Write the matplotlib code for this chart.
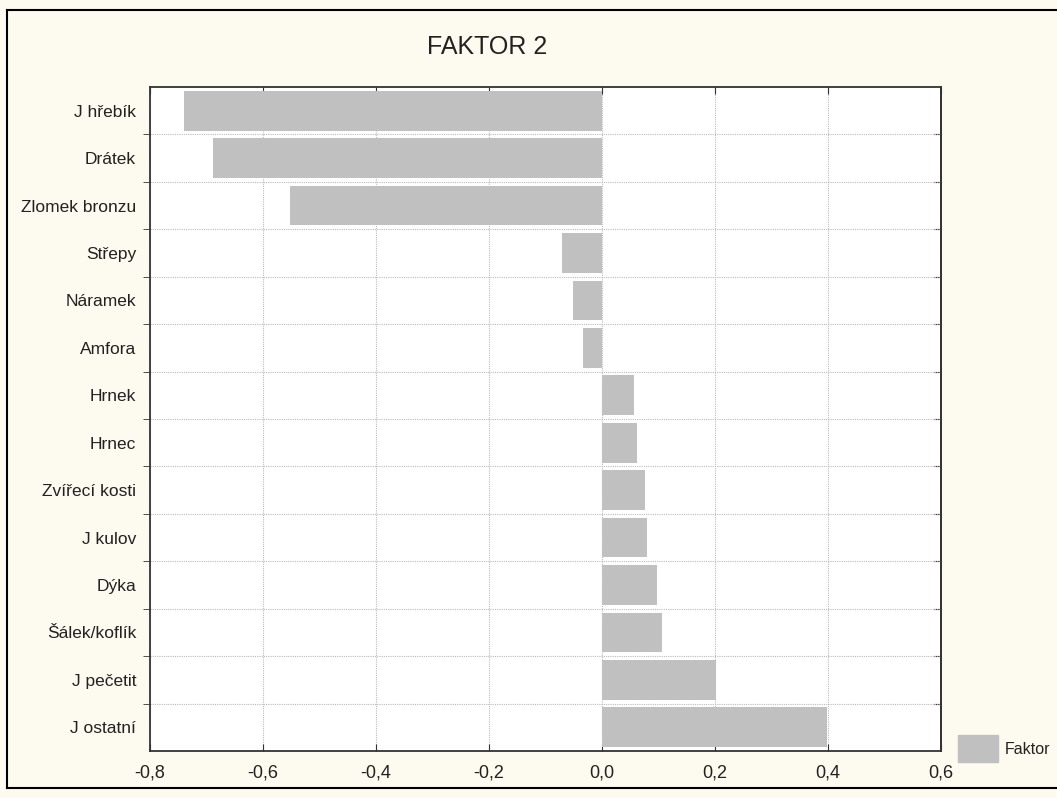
import matplotlib.pyplot as plt
from matplotlib.patches import Rectangle

# data (top to bottom as in the chart)
categories = ["J hřebík", "Drátek", "Zlomek bronzu", "Střepy", "Náramek", "Amfora",
              "Hrnek", "Hrnec", "Zvířecí kosti", "J kulov", "Dýka", "Šálek/koflík",
              "J pečetit", "J ostatní"]
values = [-0.740, -0.688, -0.552, -0.071, -0.051, -0.034,
          0.057, 0.062, 0.076, 0.080, 0.097, 0.107, 0.202, 0.398]
xticks = [-0.8, -0.6, -0.4, -0.2, 0.0, 0.2, 0.4, 0.6]
xticklabels = ["-0,8", "-0,6", "-0,4", "-0,2", "0,0", "0,2", "0,4", "0,6"]

plt.rcParams['font.family'] = ["Liberation Sans", "DejaVu Sans"]

W, H = 1057, 798
fig = plt.figure(figsize=(W / 100, H / 100), dpi=100, facecolor="#FDFAEF")
ax = fig.add_axes([150 / W, 1 - 751 / H, (941 - 150) / W, (751 - 87) / H])
ax.set_facecolor("white")

n = len(categories)
ypos = list(range(n - 1, -1, -1))
ax.barh(ypos, values, height=0.84, color="#C0C0C0", zorder=2, label="Faktor")

ax.set_xlim(-0.8, 0.6)
ax.set_ylim(-0.5, n - 0.5)
ax.set_xticks(xticks)
ax.set_xticklabels(xticklabels, fontsize=13, color="#222222")
ax.set_yticks(ypos)
ax.set_yticklabels(categories, fontsize=12.5, color="#222222")
ax.tick_params(axis="y", length=0, pad=10)
ax.tick_params(axis="x", direction="in", length=5, top=True, pad=10, color="#333333")

# boundaries between categories
bounds = [i + 0.5 for i in range(n - 1)]
ax.set_yticks(bounds, minor=True)
ax.tick_params(axis="y", which="minor", direction="out", length=5, left=True,
               right=False, color="#333333")
sec = ax.secondary_yaxis("right")
sec.set_yticks(bounds)
sec.set_yticklabels([])
sec.tick_params(direction="in", length=5, color="#333333")
sec.spines["right"].set_color("#333333")
sec.spines["right"].set_linewidth(1.3)

ax.grid(axis="y", which="minor", linestyle=(0, (1, 1)), color="#BBBBBB", linewidth=0.8, zorder=1)
ax.grid(axis="x", which="major", linestyle=(0, (1, 1)), color="#BBBBBB", linewidth=0.8, zorder=1)
ax.set_axisbelow(True)
for s in ax.spines.values():
    s.set_color("#333333")
    s.set_linewidth(1.3)

fig.text(487 / W, 1 - 47 / H, "FAKTOR 2", fontsize=18, ha="center", va="center",
         color="#222222")

# legend
fig.patches.append(Rectangle((958 / W, 1 - 762 / H), 40 / W, 27 / H,
                             transform=fig.transFigure, color="#C0C0C0"))
fig.text(1005 / W, 1 - 749 / H, "Faktor", fontsize=11.5, va="center", color="#222222")

# outer frame
fig.add_artist(plt.Line2D([7 / W, 7 / W], [1 - 10 / H, 1 - 788 / H], color="black", lw=1.5,
                          transform=fig.transFigure))
fig.add_artist(plt.Line2D([7 / W, 1], [1 - 10 / H, 1 - 10 / H], color="black", lw=1.5,
                          transform=fig.transFigure))
fig.add_artist(plt.Line2D([7 / W, 1], [1 - 788 / H, 1 - 788 / H], color="black", lw=1.5,
                          transform=fig.transFigure))

fig.savefig("out.png", dpi=100, facecolor=fig.get_facecolor())
